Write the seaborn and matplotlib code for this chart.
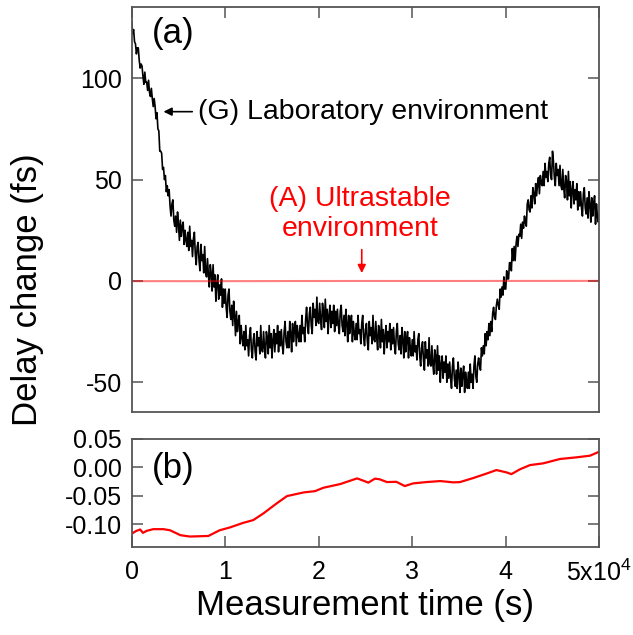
import seaborn as sns
import matplotlib.pyplot as plt
import numpy as np
import pandas as pd

sns.set_style('ticks')
plt.rcParams['font.family'] = ['Liberation Sans', 'DejaVu Sans']
plt.rcParams['mathtext.default'] = 'regular'
plt.rcParams['axes.unicode_minus'] = False
plt.rcParams['text.color'] = 'black'
plt.rcParams['xtick.labelcolor'] = 'black'
plt.rcParams['ytick.labelcolor'] = 'black'

# (G) laboratory environment, delay change (fs), one sample every 100 s
lab_fs = [
    128, 122, 124, 118, 117, 112, 115, 115, 109, 105, 107, 106, 101, 97, 103, 98, 98, 94, 99, 93,
    91, 95, 90, 86, 90, 86, 80, 83, 75, 74, 64, 64, 63, 55, 56, 50, 52, 44, 47, 42,
    45, 37, 32, 38, 40, 30, 27, 32, 24, 34, 28, 20, 30, 22, 27, 29, 18, 25, 20, 17,
    24, 15, 27, 17, 20, 12, 21, 24, 13, 8, 17, 19, 10, 5, 18, 10, 13, 4, 17, 4,
    2, 11, 3, -3, 8, 4, -5, 8, -3, 3, -10, -1, 3, -9, -2, -7, 1, -13, -4, -11,
    -4, -13, -18, -7, -4, -15, -19, -12, -22, -10, -17, -27, -15, -25, -20, -17, -31, -22, -28, -32,
    -25, -34, -22, -32, -29, -37, -27, -23, -34, -38, -29, -26, -35, -39, -25, -32, -28, -36, -22, -34,
    -35, -25, -33, -38, -25, -28, -36, -22, -33, -26, -38, -29, -24, -35, -26, -31, -22, -35, -25, -32,
    -24, -32, -36, -25, -20, -30, -33, -25, -33, -20, -26, -35, -21, -30, -24, -20, -32, -22, -27, -30,
    -22, -30, -17, -26, -23, -30, -19, -13, -22, -26, -16, -13, -22, -26, -11, -18, -14, -22, -8, -20,
    -21, -11, -19, -24, -11, -15, -23, -9, -20, -14, -26, -17, -12, -23, -15, -21, -12, -25, -15, -22,
    -14, -22, -26, -15, -12, -22, -25, -17, -27, -14, -21, -30, -17, -26, -21, -17, -30, -20, -26, -29,
    -21, -29, -17, -26, -24, -31, -21, -17, -28, -32, -24, -21, -30, -34, -20, -27, -23, -31, -17, -29,
    -30, -20, -28, -34, -22, -25, -33, -19, -30, -24, -36, -27, -22, -33, -25, -30, -21, -34, -24, -31,
    -23, -32, -36, -25, -21, -31, -34, -27, -36, -23, -29, -38, -25, -35, -29, -25, -38, -28, -33, -37,
    -29, -37, -25, -35, -32, -39, -29, -26, -37, -42, -33, -30, -39, -44, -30, -38, -34, -42, -28, -41,
    -42, -32, -41, -46, -34, -37, -46, -32, -44, -37, -50, -41, -37, -48, -40, -45, -37, -50, -41, -48,
    -40, -48, -53, -42, -38, -48, -52, -44, -53, -40, -46, -55, -43, -52, -46, -42, -55, -45, -50, -53,
    -45, -53, -41, -50, -46, -53, -42, -37, -47, -50, -41, -38, -42, -44, -33, -37, -32, -36, -26, -32,
    -25, -29, -21, -27, -20, -25, -16, -13, -18, -19, -12, -9, -12, -14, -4, -8, -3, -7, 2, -4,
    -4, 5, 1, 1, 9, 9, 5, 16, 10, 17, 10, 18, 22, 17, 23, 22, 28, 21, 29, 26,
    32, 29, 27, 38, 40, 35, 34, 42, 36, 46, 43, 38, 48, 42, 48, 51, 43, 52, 48, 47,
    54, 47, 58, 51, 54, 49, 58, 61, 52, 50, 64, 59, 51, 47, 58, 52, 55, 47, 57, 47,
    45, 55, 46, 41, 52, 49, 40, 54, 42, 49, 36, 45, 49, 38, 45, 40, 48, 35, 44, 37,
    44, 36, 32, 43, 46, 36, 33, 41, 31, 44, 38, 29, 41, 32, 38, 42, 28, 38, 32, 29,
    33,
]
lab_t = np.linspace(0, 50000, len(lab_fs))

# (A) ultrastable environment
ultra_t = [0, 500, 900, 1200, 1600, 2300, 3400, 4100, 5200, 6200, 8200, 9400,
           10500, 11900, 13000, 14100, 15500, 16600, 18400, 19600, 20500, 22300,
           24100, 24800, 25300, 26000, 26500, 27300, 28300, 29200, 30100, 31500,
           33000, 34400, 35100, 36500, 38000, 39000, 40100, 40600, 41500, 42600,
           44000, 45800, 47600, 49000, 50000]
ultra_fs = [-0.117, -0.112, -0.1096, -0.1155, -0.112, -0.109, -0.109, -0.111,
            -0.1196, -0.122, -0.121, -0.111, -0.106, -0.098, -0.093, -0.081,
            -0.0636, -0.0507, -0.0442, -0.042, -0.036, -0.0295, -0.0195, -0.0237,
            -0.027, -0.020, -0.021, -0.026, -0.0255, -0.033, -0.0283, -0.026,
            -0.0242, -0.0265, -0.026, -0.019, -0.0107, -0.0048, -0.009, -0.012,
            -0.0036, 0.004, 0.007, 0.0147, 0.0177, 0.0205, 0.0276]

x_ticks = [0, 10000, 20000, 30000, 40000, 50000]
x_ticklabels = ['0', '1', '2', '3', '4', '5x10$^{4}$']

lab = pd.DataFrame({'t': lab_t, 'fs': lab_fs})
ultra = pd.DataFrame({'t': ultra_t, 'fs': ultra_fs})

fig = plt.figure(figsize=(6.33, 6.35), dpi=100)
ax1 = fig.add_axes([0.2081, 0.3517, 0.7386, 0.6378])
ax2 = fig.add_axes([0.2081, 0.1381, 0.7386, 0.1706])

sns.lineplot(data=lab, x='t', y='fs', ax=ax1, color='black', lw=1.2, estimator=None)
sns.lineplot(data=ultra, x='t', y='fs', ax=ax1, color='red', lw=1.5, alpha=0.5, estimator=None)
sns.lineplot(data=ultra, x='t', y='fs', ax=ax2, color='red', lw=1.6, estimator=None)

for ax in (ax1, ax2):
    ax.set_xlim(0, 50000)
    ax.set_xticks(x_ticks)
    ax.set_xlabel('')
    ax.set_ylabel('')
    for s in ax.spines.values():
        s.set_visible(True)
        s.set_color('#555555')
        s.set_linewidth(1.3)
    ax.tick_params(direction='in', length=8, width=1.1, color='#555555',
                   labelsize=18, pad=7, right=True, labelcolor='black')

ax1.set_ylim(-64.5, 135.3)
ax1.set_yticks([-50, 0, 50, 100])
ax1.set_yticklabels(['-50', '0', '50', '100'])
ax1.tick_params(axis='x', top=True, bottom=False, labelbottom=False)

ax2.set_ylim(-0.141, 0.05)
ax2.set_yticks([-0.10, -0.05, 0.00, 0.05])
ax2.set_yticklabels(['-0.10', '-0.05', '0.00', '0.05'])
ax2.set_xticklabels(x_ticklabels)
ax2.tick_params(axis='x', top=False, bottom=True, pad=9)

ax1.text(0.043, 0.933, '(a)', transform=ax1.transAxes, fontsize=25, va='center', ha='left')
ax2.text(0.043, 0.723, '(b)', transform=ax2.transAxes, fontsize=25, va='center', ha='left')

ax1.annotate('', xy=(3100, 83.5), xytext=(6770, 83.5),
             arrowprops=dict(arrowstyle='-|>', color='black', lw=1.2, mutation_scale=12))
ax1.text(7120, 83.5, '(G) Laboratory environment', fontsize=20.5, va='center', ha='left')

ax1.text(24420, 33, '(A) Ultrastable\nenvironment', fontsize=20.5, color='red',
         va='center', ha='center', linespacing=1.2)
ax1.annotate('', xy=(24600, 2.5), xytext=(24600, 16.8),
             arrowprops=dict(arrowstyle='-|>', color='red', lw=1.2, mutation_scale=12))

fig.text(27 / 633, 1 - 290 / 635, 'Delay change (fs)', rotation=90, fontsize=25,
         va='center', ha='center')
fig.text(365 / 633, 1 - 606 / 635, 'Measurement time (s)', fontsize=25,
         va='center', ha='center')

fig.savefig('out.png', dpi=100)
